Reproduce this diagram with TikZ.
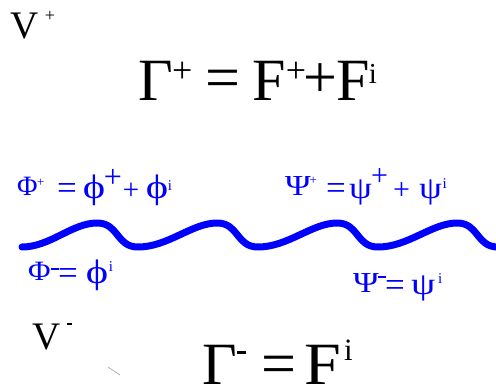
\documentclass[tikz,border=0pt]{standalone}
\usepackage{fontspec}
\setmainfont{Liberation Serif}
\usepackage{graphicx}
\definecolor{wblue}{RGB}{0,0,255}
% \gl{x offset}{raise}{size}{glyph}
\newcommand\gl[4]{\makebox[0pt][l]{\hspace*{#1pt}\raisebox{#2pt}{\fontsize{#3pt}{#3pt}\selectfont #4}}}
% \glx{x offset}{raise}{size}{horizontal scale}{glyph}
\newcommand\glx[5]{\makebox[0pt][l]{\hspace*{#1pt}\raisebox{#2pt}{\fontsize{#3pt}{#3pt}\selectfont\scalebox{#4}[1]{#5}}}}
\begin{document}
\begin{tikzpicture}[x=1pt,y=-1pt,
  every node/.style={inner sep=0pt, outer sep=0pt, anchor=base west},
  blacktext/.style={text=black},
  labtext/.style={text=wblue},
  wavestyle/.style={draw=wblue, line width=7pt, line cap=round, line join=round}]
\useasboundingbox (0,0) rectangle (496,389);
% wave
\draw[wavestyle] (22,247) .. controls (50,247) and (72,223) .. (97,223)
  .. controls (119,223) and (116,247) .. (138,247)
  .. controls (168,247) and (192,223) .. (217,223)
  .. controls (239,223) and (236,247) .. (258,247)
  .. controls (288,247) and (312,223) .. (337,223)
  .. controls (359,223) and (356,247) .. (378,247)
  .. controls (408,247) and (432,223) .. (457,223)
  .. controls (479,223) and (476,247) .. (498,247);
% black labels
\node[blacktext] (vp) at (10,38) {\makebox[45pt][l]{\gl{0}{0}{39}{V}\gl{35}{17}{18}{+}}};
\node[blacktext] (vm) at (32,349) {\makebox[41pt][l]{\gl{0}{0}{39}{V}\gl{35}{0}{39}{\rule[24pt]{5pt}{1.6pt}}}};
\node[blacktext] (gp) at (138,100) {\makebox[241pt][l]{%
  \gl{0}{0}{60}{Γ}\gl{34}{17.6}{36}{+}\gl{67}{2}{62}{=}%
  \gl{115}{0}{60}{F}\gl{148}{17.6}{36}{+}\gl{165}{2.6}{60}{+}%
  \gl{199}{0}{60}{F}\gl{231}{17}{29}{i}}};
\node[blacktext] (gm) at (202,384) {\makebox[150pt][l]{%
  \gl{0}{0}{60}{Γ}\gl{35}{0}{60}{\rule[30.5pt]{9pt}{2.5pt}}\gl{59}{0}{62}{=}%
  \glx{102}{0}{60}{1.1}{F}\gl{142}{24}{31}{i}}};
% blue labels
\node[labtext] (phip) at (17,195) {\makebox[153pt][l]{%
  \gl{0}{0}{28}{Φ}\gl{20}{8.7}{13}{+}\gl{40}{-4.5}{35}{=}%
  \glx{66}{-3}{34}{1.25}{ϕ}\gl{87}{8}{32}{+}\gl{106}{-4.5}{29}{+}%
  \glx{129}{-3}{34}{1.25}{ϕ}\gl{151}{5}{15}{i}}};
\node[labtext] (psip) at (285,195) {\makebox[162pt][l]{%
  \glx{0}{0}{29}{1.2}{Ψ}\gl{24.5}{10.2}{13}{+}\gl{41}{-4}{35}{=}%
  \glx{64}{-3}{31}{1.18}{ψ}\gl{86}{10}{30}{+}\gl{108}{-4}{30}{+}%
  \glx{134}{-3}{31}{1.18}{ψ}\gl{157.5}{7}{15}{i}}};
\node[labtext] (phim) at (28,280) {\makebox[85pt][l]{%
  \glx{0}{0}{28}{1.1}{Φ}\gl{22.5}{0}{28}{\rule[10pt]{8pt}{2pt}}\gl{30}{-4}{35}{=}%
  \glx{58}{-3}{34}{1.25}{ϕ}\gl{81}{9}{15}{i}}};
\node[labtext] (psim) at (353,292) {\makebox[88pt][l]{%
  \glx{0}{0}{29}{1.2}{Ψ}\gl{25}{0}{29}{\rule[14pt]{8pt}{2pt}}\gl{32}{-4}{35}{=}%
  \glx{58}{-2}{31}{1.25}{ψ}\gl{85}{9}{15}{i}}};
% stray mark
\draw[gray!60, line width=0.8pt] (108,367) -- (120,375);
\end{tikzpicture}
\end{document}
